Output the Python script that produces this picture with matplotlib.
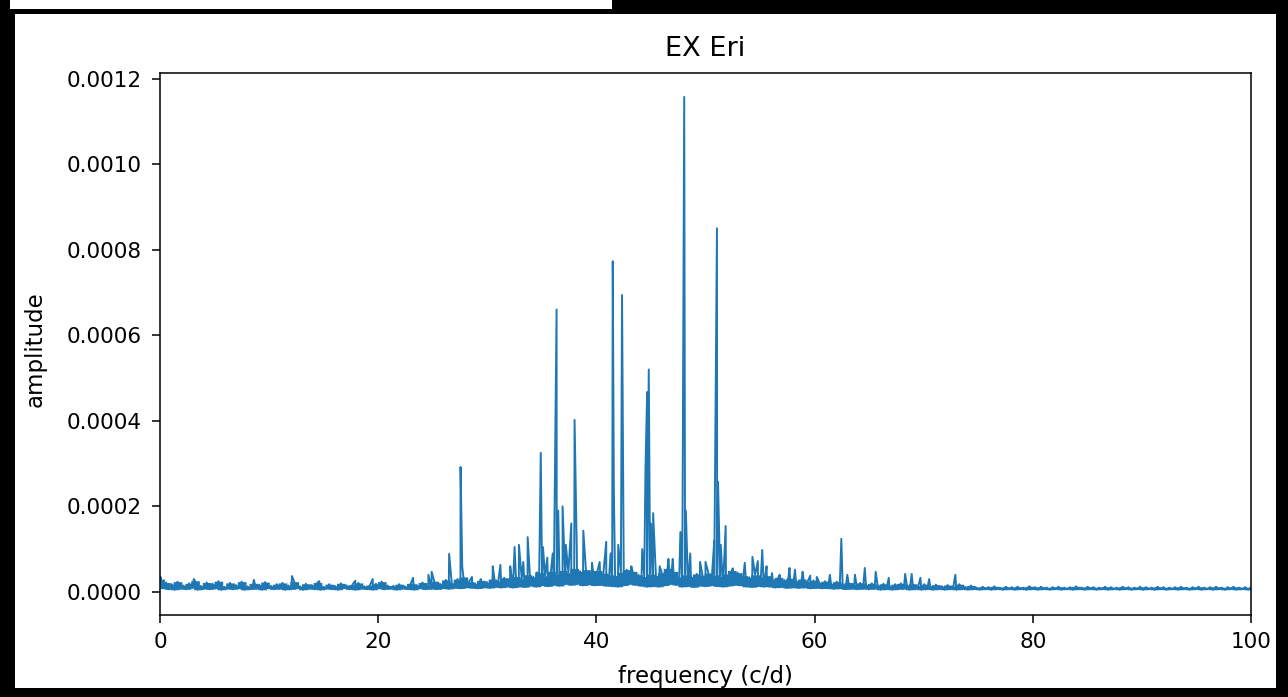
import numpy as np
import matplotlib
matplotlib.use("Agg")
import matplotlib.pyplot as plt
from matplotlib.patches import Rectangle

# ==========================================
# DATA (amplitudes in units of 1e-6)
# ==========================================

TITLE = "EX Eri"

# noise floor, sampled evenly from 0 to 100 c/d
noise_floor = [
    30, 8, 22, 6, 18, 5, 24, 7, 15, 6, 20, 9, 26, 5, 14, 7, 22, 6, 19, 8, 25, 5, 12, 7, 21, 6, 16, 8, 24, 5, 13, 6, 20, 7, 17, 5, 23, 8, 14, 6,
    18, 7, 21, 5, 15, 6, 24, 8, 13, 5, 19, 7, 16, 6, 22, 5, 12, 7, 18, 6, 14, 5, 20, 8, 15, 6, 17, 5, 21, 7, 13, 6, 16, 5, 19, 8, 24, 6, 15, 7,
    14, 5, 18, 7, 13, 6, 20, 5, 16, 8, 22, 6, 15, 7, 25, 6, 19, 8, 28, 7, 21, 9, 30, 8, 35, 10, 24, 9, 20, 8, 27, 10, 23, 9, 30, 11, 26, 10, 33, 12,
    28, 10, 36, 12, 31, 11, 40, 14, 35, 12, 45, 15, 38, 13, 48, 16, 42, 14, 50, 18, 45, 16, 55, 18, 48, 15, 52, 17, 46, 15, 50, 16, 44, 14, 40, 13,
    38, 12, 46, 15, 52, 18, 48, 16, 40, 14, 36, 12, 42, 13, 38, 12, 45, 15, 55, 18, 48, 16, 35, 12, 40, 13, 36, 11, 42, 14, 38, 13, 44, 15, 40, 13,
    36, 12, 42, 14, 50, 16, 45, 15, 38, 12, 34, 11, 40, 13, 35, 12, 38, 12, 30, 10, 34, 11, 28, 9, 32, 10, 26, 9, 30, 10, 24, 8, 27, 9, 22, 8,
    25, 8, 20, 7, 24, 8, 19, 6, 22, 7, 18, 6, 21, 7, 17, 6, 20, 7, 16, 5, 19, 6, 15, 5, 18, 6, 20, 7, 16, 5, 19, 6, 15, 5, 18, 6, 14, 5,
    17, 6, 13, 5, 16, 6, 14, 5, 18, 6, 12, 5, 15, 6, 10, 5, 12, 6, 11, 5, 13, 6, 10, 5, 12, 6, 11, 5, 12, 6, 10, 5, 13, 6, 11, 5,
    12, 6, 10, 5, 11, 6, 12, 5, 10, 6, 11, 5, 13, 6, 10, 5, 12, 6, 11, 5, 10, 6, 12, 5, 11, 6, 10, 5, 12, 6, 11, 5, 10, 6, 12, 5,
    11, 6, 10, 5, 12, 6, 11, 5, 10, 6, 11, 5, 12, 6, 10, 5, 11, 6, 12, 5, 10, 6, 11, 5, 12, 6, 10, 5, 11, 6, 12, 5, 10, 6, 11, 5, 10,
]

# peaks
peak_freq = [
    0.05, 3.1, 8.6, 12.1, 14.6, 17.9, 19.5, 23.2, 24.6, 24.9,
    26.5, 27.55, 27.7, 28.6, 29.4, 30.5, 31.2, 32.1, 32.5, 32.9,
    33.3, 33.7, 34.5, 34.9, 35.1, 35.5, 36.0, 36.35, 36.5, 36.9,
    37.2, 37.7, 38.0, 38.2, 38.8, 39.6, 40.3, 40.9, 41.3, 41.5,
    41.6, 42.0, 42.35, 42.5, 43.2, 44.2, 44.5, 44.65, 44.8, 45.0,
    45.2, 45.8, 46.6, 47.0, 47.7, 47.9, 48.05, 48.2, 48.6, 49.5,
    50.0, 50.8, 51.05, 51.15, 51.4, 51.85, 52.5, 53.6, 54.3, 54.8,
    55.2, 55.6, 56.1, 56.8, 57.7, 58.2, 58.9, 59.6, 60.2, 61.4,
    62.45, 63.0, 63.7, 64.6, 65.6, 66.8, 68.3, 68.9, 69.7, 70.5,
    72.9,
]
peak_amp = [
    35, 30, 28, 37, 25, 26, 30, 33, 40, 47,
    89, 292, 60, 35, 30, 60, 63, 60, 105, 110,
    70, 128, 45, 325, 105, 80, 90, 660, 190, 200,
    110, 160, 402, 100, 143, 68, 70, 117, 90, 773,
    234, 110, 694, 100, 60, 100, 290, 467, 520, 160,
    184, 60, 77, 77, 140, 203, 1157, 190, 90, 70,
    70, 120, 850, 257, 110, 154, 55, 68, 82, 72,
    98, 60, 44, 40, 56, 52, 47, 38, 35, 40,
    124, 40, 40, 56, 47, 33, 42, 42, 33, 30,
    40,
]

# ==========================================

noise_freq = np.linspace(0, 100, len(noise_floor))
noise_amp = np.array(noise_floor) * 1e-6
freq = np.concatenate([noise_freq, peak_freq])
amp = np.concatenate([noise_floor, peak_amp]) * 1e-6
order = np.argsort(freq, kind="stable")
freq, amp = freq[order], amp[order]

# local min / max of the noise, so the dense floor reads as a filled band
padded = np.pad(noise_amp, 1, mode="edge")
noise_low = np.minimum(np.minimum(padded[:-2], padded[1:-1]), padded[2:])
noise_high = np.maximum(np.maximum(padded[:-2], padded[1:-1]), padded[2:])

W, H = 1288, 697
fig = plt.figure(figsize=(W / 100, H / 100), dpi=100)
fig.patch.set_facecolor("black")

# white page inside the black screen frame
fig.patches.append(Rectangle((15 / W, 1 - 688 / H), (1276 - 15) / W, (688 - 14) / H,
                             transform=fig.transFigure, facecolor="white", edgecolor="none", zorder=-10))
fig.patches.append(Rectangle((10 / W, 1 - 9 / H), (612 - 10) / W, 9 / H,
                             transform=fig.transFigure, facecolor="white", edgecolor="none", zorder=-10))

color = "#1f77b4"
ax = fig.add_axes([160 / W, 1 - 615 / H, (1251 - 160) / W, (615 - 73) / H])
ax.set_zorder(5)
ax.fill_between(noise_freq, noise_low, noise_high, color=color, linewidth=0, step="mid")
ax.plot(freq, amp, color=color, linewidth=1.4)

ax.set_xlim(0, 100)
ax.set_ylim(-0.000054, 0.001213)
ax.set_xticks([0, 20, 40, 60, 80, 100])
ax.set_yticks([0.0, 0.0002, 0.0004, 0.0006, 0.0008, 0.0010, 0.0012])
ax.set_yticklabels(["0.0000", "0.0002", "0.0004", "0.0006", "0.0008", "0.0010", "0.0012"])
ax.tick_params(labelsize=15.5, length=6, width=1.1)
ax.tick_params(axis="y", pad=7)
ax.tick_params(axis="x", pad=6)
for s in ax.spines.values():
    s.set_linewidth(1.1)

ax.set_title(TITLE, fontsize=19.5, pad=12)
ax.set_xlabel("frequency (c/d)", fontsize=16.5)
ax.set_ylabel("amplitude", fontsize=16.5)
ax.xaxis.set_label_coords(0.5, -0.092)
ax.yaxis.set_label_coords(-0.104, 0.49)

plt.savefig("out.png", dpi=100, facecolor=fig.get_facecolor())
